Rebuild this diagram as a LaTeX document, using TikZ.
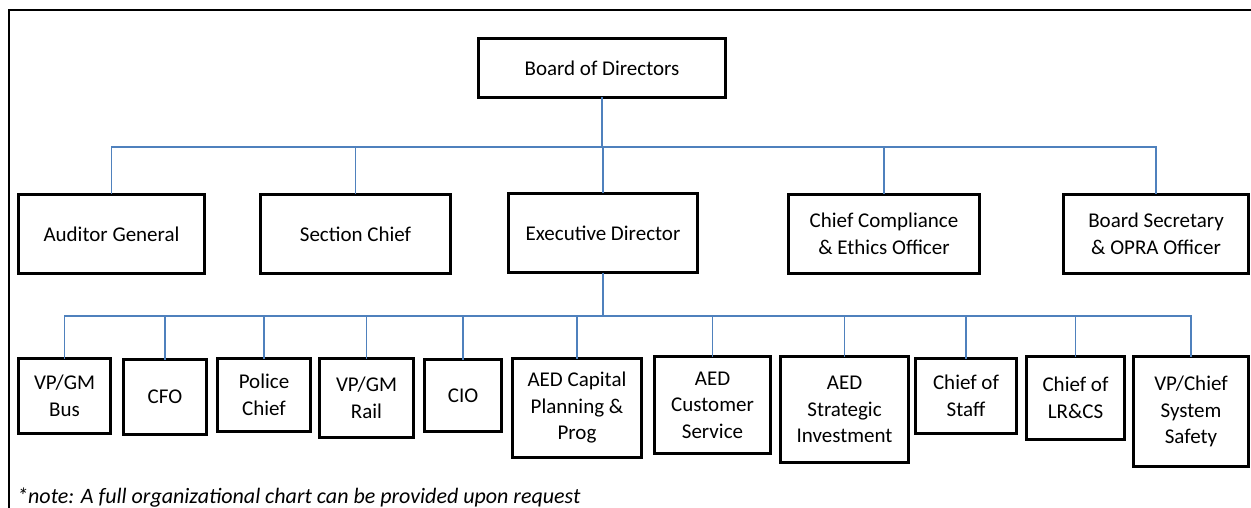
\documentclass[tikz,border=0pt]{standalone}
\usepackage{fontspec}
\setmainfont{Carlito}
\definecolor{linkblue}{HTML}{4F81BD}

\begin{document}
\begin{tikzpicture}[x=1pt,y=-1pt,
  box/.style={draw,line width=3pt,inner sep=2pt,outer sep=0pt,align=center,anchor=north,font=\fontsize{21}{26.5}\selectfont},
  hv/.style={to path={-| (\tikztotarget)}},
  link/.style={every edge/.style={draw=linkblue,line width=1.4pt}},
  trunk/.style={draw=linkblue,line width=2.6pt}]

  \useasboundingbox (0,0) rectangle (1251,508);
  \draw[line width=1.5pt] (9,10) rectangle (1275,535);

  % top
  \node[box,minimum width=247pt,minimum height=59pt] (bod) at (602,38.5) {Board of Directors};

  % second level
  \node[box,minimum width=186pt,minimum height=79pt] (aud) at (111.5,194.5) {Auditor General};
  \node[box,minimum width=190pt,minimum height=79pt] (sec) at (355.5,194.5) {Section Chief};
  \node[box,minimum width=189pt,minimum height=79pt] (exd) at (603,193.5) {Executive Director};
  \node[box,minimum width=191pt,minimum height=79pt] (cco) at (884,194.5) {Chief Compliance\\ \& Ethics Officer};
  \node[box,minimum width=185pt,minimum height=79pt] (bsec) at (1156,194.5) {Board Secretary\\ \& OPRA Officer};

  % third level
  \node[box,minimum width=92pt,minimum height=75pt] (bus) at (64.5,358.5) {VP/GM\\ Bus};
  \node[box,minimum width=83pt,minimum height=75pt] (cfo) at (165,359.5) {CFO};
  \node[box,minimum width=93pt,minimum height=73pt] (pol) at (264,358.5) {Police\\ Chief};
  \node[box,minimum width=94pt,minimum height=79pt] (rail) at (366.5,358.5) {VP/GM\\ Rail};
  \node[box,minimum width=77pt,minimum height=72pt] (cio) at (463,359.5) {CIO};
  \node[box,minimum width=129pt,minimum height=99pt] (aedc) at (577,358.5) {AED Capital\\ Planning \&\\ Prog};
  \node[box,minimum width=116pt,minimum height=97pt] (aedcs) at (712.5,356.5) {AED\\ Customer\\ Service};
  \node[box,minimum width=128pt,minimum height=106pt] (aeds) at (844.5,356.5) {AED\\ Strategic\\ Investment};
  \node[box,minimum width=101pt,minimum height=75pt] (staff) at (966,358.5) {Chief of\\ Staff};
  \node[box,minimum width=98pt,minimum height=83pt] (lrcs) at (1075.5,356.5) {Chief of\\ LR\&CS};
  \node[box,minimum width=115pt,minimum height=110pt] (safety) at (1191,356.5) {VP/Chief\\ System\\ Safety};

  \node[anchor=base west,inner sep=0pt,font=\fontsize{22}{26}\selectfont\itshape] (note) at (17,503) {*note: A full organizational chart can be provided upon request};

  \coordinate (topbus) at (602,147);
  \coordinate (lowbus) at (603,316);

  \draw[trunk] (bod) -- (topbus);
  \draw[trunk] (exd) -- (lowbus);

  \path[link]
       (topbus) edge[hv] (aud)
       (topbus) edge[hv] (sec)
       (topbus) edge[hv] (exd)
       (topbus) edge[hv] (cco)
       (topbus) edge[hv] (bsec);

  \path[link]
       (lowbus) edge[hv] (bus)
       (lowbus) edge[hv] (cfo)
       (lowbus) edge[hv] (pol)
       (lowbus) edge[hv] (rail)
       (lowbus) edge[hv] (cio)
       (lowbus) edge[hv] (aedc)
       (lowbus) edge[hv] (aedcs)
       (lowbus) edge[hv] (aeds)
       (lowbus) edge[hv] (staff)
       (lowbus) edge[hv] (lrcs)
       (lowbus) edge[hv] (safety);
\end{tikzpicture}
\end{document}
